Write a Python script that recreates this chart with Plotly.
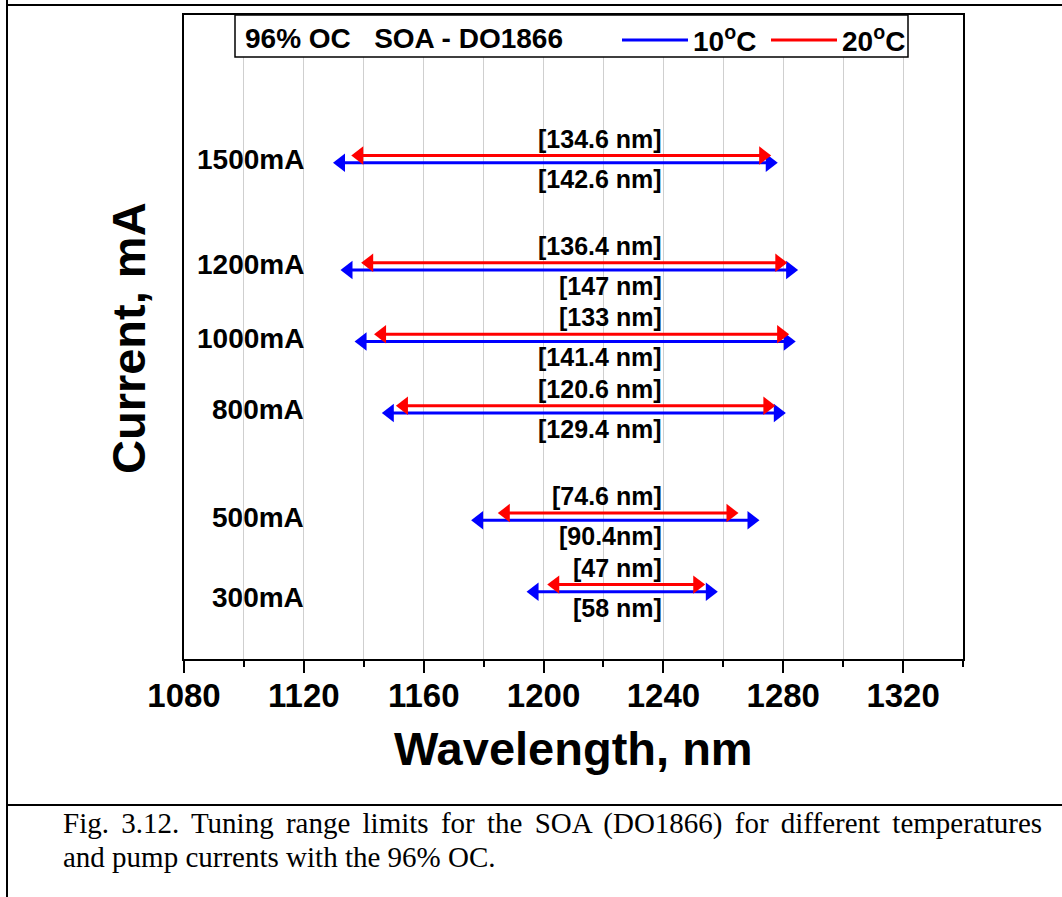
import plotly.graph_objects as go

# ---------------- data ----------------
currents = [1500, 1200, 1000, 800, 500, 300]
current_labels = ["1500mA", "1200mA", "1000mA", "800mA", "500mA", "300mA"]

# 10 C (blue) tuning limits, nm
blue_start = [1132.4, 1134.9, 1139.6, 1148.7, 1178.5, 1197.0]
blue_end = [1275.5, 1282.3, 1281.5, 1278.2, 1269.4, 1255.5]
blue_labels = ["[142.6 nm]", "[147 nm]", "[141.4 nm]", "[129.4 nm]", "[90.4nm]", "[58 nm]"]

# 20 C (red) tuning limits, nm
red_start = [1138.5, 1141.8, 1146.1, 1153.4, 1187.4, 1203.9]
red_end = [1273.3, 1278.7, 1279.3, 1274.7, 1262.4, 1251.3]
red_labels = ["[134.6 nm]", "[136.4 nm]", "[133 nm]", "[120.6 nm]", "[74.6 nm]", "[47 nm]"]

x_tick_vals = [1080, 1120, 1160, 1200, 1240, 1280, 1320]
x_tick_text = ["1080", "1120", "1160", "1200", "1240", "1280", "1320"]

legend_title = "96% OC   SOA - DO1866"
legend_names = ["10<sup>o</sup>C", "20<sup>o</sup>C"]
caption_lines = [
    "Fig. 3.12. Tuning range limits for the SOA (DO1866) for different temperatures",
    "and pump currents with the 96% OC.",
]

# ---------------- style ----------------
BLUE = "#0000FF"
RED = "#FF0000"
RED_OFFSET = 20          # vertical display offset of the red arrow (mA units)
LABEL_NUDGE = [3, 5, 3, 3, 3, -6]   # px nudges of the current labels
SANS = "Liberation Sans"
SERIF = "Liberation Serif"
ARROW_SIZE = 16

W, H = 1062, 897
L, R, T, B = 184, 99, 15, 238
PW, PH = W - L - R, H - T - B


def px(x):
    return (x - L) / PW


def py(y):
    return (H - B - y) / PH


fig = go.Figure()

for c, s, e in zip(currents, blue_start, blue_end):
    fig.add_trace(go.Scatter(
        x=[s, e], y=[c, c], mode="lines+markers",
        line=dict(color=BLUE, width=3),
        marker=dict(symbol=["triangle-left", "triangle-right"], size=ARROW_SIZE,
                    color=BLUE, line=dict(width=0)),
        showlegend=False, hoverinfo="skip"))

for c, s, e in zip(currents, red_start, red_end):
    fig.add_trace(go.Scatter(
        x=[s, e], y=[c + RED_OFFSET, c + RED_OFFSET], mode="lines+markers",
        line=dict(color=RED, width=3),
        marker=dict(symbol=["triangle-left", "triangle-right"], size=ARROW_SIZE,
                    color=RED, line=dict(width=0)),
        showlegend=False, hoverinfo="skip"))

annotations = []
lab_font = dict(family=SANS, size=25, color="black", weight="bold")
for c, t in zip(currents, red_labels):
    annotations.append(dict(x=1239, y=c + RED_OFFSET, xref="x", yref="y", text=t,
                            showarrow=False, xanchor="right", yanchor="middle",
                            xshift=4, yshift=17, font=lab_font))
for c, t in zip(currents, blue_labels):
    annotations.append(dict(x=1239, y=c, xref="x", yref="y", text=t,
                            showarrow=False, xanchor="right", yanchor="middle",
                            xshift=4, yshift=-16, font=lab_font))
for c, t, n in zip(currents, current_labels, LABEL_NUDGE):
    annotations.append(dict(x=1119.4, y=c, xref="x", yref="y", text=t,
                            showarrow=False, xanchor="right", yanchor="middle",
                            xshift=4, yshift=n,
                            font=dict(family=SANS, size=28, color="black", weight="bold")))

# axis titles
annotations.append(dict(x=px(573), y=py(748), xref="paper", yref="paper",
                        text="Wavelength, nm", showarrow=False,
                        xanchor="center", yanchor="middle",
                        font=dict(family=SANS, size=47, color="black", weight="bold")))
annotations.append(dict(x=px(128), y=py(338), xref="paper", yref="paper",
                        text="Current, mA", showarrow=False, textangle=-90,
                        xanchor="center", yanchor="middle",
                        font=dict(family=SANS, size=47, color="black", weight="bold")))

# legend (manual box)
leg_font = dict(family=SANS, size=28, color="black", weight="bold")
annotations.append(dict(x=px(243), y=py(39), xref="paper", yref="paper",
                        text=legend_title, showarrow=False, xanchor="left",
                        yanchor="middle", font=leg_font))
annotations.append(dict(x=px(691), y=py(39), xref="paper", yref="paper",
                        text=legend_names[0], showarrow=False, xanchor="left",
                        yanchor="middle", font=leg_font))
annotations.append(dict(x=px(840), y=py(39), xref="paper", yref="paper",
                        text=legend_names[1], showarrow=False, xanchor="left",
                        yanchor="middle", font=leg_font))

# caption
cap_font = dict(family=SERIF, size=29, color="black")
annotations.append(dict(x=px(61), y=py(823), xref="paper", yref="paper",
                        text='<span style="word-spacing:5px">' + caption_lines[0] + "</span>",
                        showarrow=False, xanchor="left",
                        yanchor="middle", font=cap_font))
annotations.append(dict(x=px(61), y=py(857), xref="paper", yref="paper",
                        text=caption_lines[1], showarrow=False, xanchor="left",
                        yanchor="middle", font=cap_font))

shapes = [
    # legend box
    dict(type="rect", xref="paper", yref="paper", x0=px(235), x1=px(908),
         y0=py(57), y1=py(15), fillcolor="white", line=dict(color="black", width=1.5),
         layer="above"),
    dict(type="line", xref="paper", yref="paper", x0=px(622), x1=px(688),
         y0=py(40), y1=py(40), line=dict(color=BLUE, width=3)),
    dict(type="line", xref="paper", yref="paper", x0=px(771), x1=px(837),
         y0=py(40), y1=py(40), line=dict(color=RED, width=3)),
    # outer page frame
    dict(type="line", xref="paper", yref="paper", x0=px(7), x1=px(1062),
         y0=py(5), y1=py(5), line=dict(color="black", width=2)),
    dict(type="line", xref="paper", yref="paper", x0=px(7), x1=px(7),
         y0=py(0), y1=py(897), line=dict(color="black", width=2)),
    dict(type="line", xref="paper", yref="paper", x0=px(7), x1=px(1062),
         y0=py(805), y1=py(805), line=dict(color="black", width=2)),
]

fig.update_layout(
    width=W, height=H,
    margin=dict(l=L, r=R, t=T, b=B, pad=0),
    paper_bgcolor="white", plot_bgcolor="white",
    showlegend=False,
    annotations=annotations, shapes=shapes,
    xaxis=dict(
        range=[1080, 1340], tickmode="array", tickvals=x_tick_vals, ticktext=x_tick_text,
        ticks="outside", ticklen=12, tickwidth=2, tickcolor="black",
        ticklabelstandoff=-6,
        showline=True, linewidth=2, linecolor="black", mirror=True,
        showgrid=True, gridcolor="#cfcfcf", gridwidth=1, zeroline=False,
        tickfont=dict(family=SANS, size=33, color="black", weight="bold"),
        minor=dict(tickvals=[1100, 1140, 1180, 1220, 1260, 1300, 1340],
                   ticks="outside", ticklen=6, tickwidth=2, tickcolor="black",
                   showgrid=True, gridcolor="#cfcfcf", gridwidth=1),
    ),
    yaxis=dict(
        range=[112, 1913], showticklabels=False, ticks="",
        showline=True, linewidth=2, linecolor="black", mirror=True,
        showgrid=False, zeroline=False,
    ),
)

fig.write_html("out.html")
